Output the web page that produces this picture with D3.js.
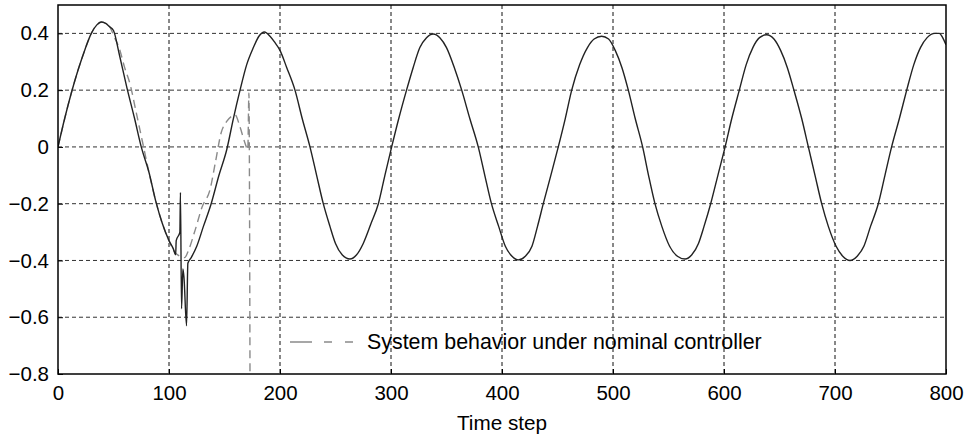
<!DOCTYPE html>
<html>
<head>
<meta charset="utf-8">
<script src="https://cdn.jsdelivr.net/npm/d3@7"></script>
<style>
  html, body { margin: 0; padding: 0; background: #fff; }
  svg { display: block; font-family: "Liberation Sans", Arial, Helvetica, sans-serif; }
</style>
</head>
<body>
<svg id="chart" width="969" height="439"></svg>
<script>
// ---------- data ----------
const xTicks = [0, 100, 200, 300, 400, 500, 600, 700, 800];
const yTicks = [0.4, 0.2, 0, -0.2, -0.4, -0.6, -0.8];
const xLabel = "Time step";
const legendLabel = "System behavior under nominal controller";

// Solid line: system behaviour (time steps and values)
const solidT = [0, 6, 12, 18, 24, 30, 35, 39, 43, 46, 50, 55, 62, 69, 75, 82, 88, 94, 100, 104, 106,
  106.5, 109.8, 110.3, 111.3, 112.5, 113.5, 115.8, 117, 120, 125, 131, 138, 145, 152, 158, 164, 170, 176, 181,
  186, 191, 195, 200, 206, 213.5, 220, 227, 233, 239, 245, 250, 256, 263, 269, 275, 282, 288.6, 294.5,
  300.6, 307, 314, 320, 326, 332, 338, 344, 350, 357, 363.7, 371, 378.6, 384.5, 390.5, 397, 403, 409,
  414.7, 421, 427, 432, 437.2, 444, 450.7, 457, 462.8, 470, 477, 483, 489.8, 496, 502, 508, 513.8, 520,
  526.7, 532, 537.8, 544, 551, 558, 564.9, 571, 577, 582, 588, 594.5, 601, 607, 613.8, 620, 626, 632,
  638.4, 645, 651, 657, 663, 670, 676, 682, 688, 694, 701, 707, 713.5, 720, 726, 732, 739, 745, 751,
  758, 764.6, 771, 777, 783, 790, 794, 797, 800];
const solidV = [0, 0.10, 0.19, 0.27, 0.34, 0.40, 0.43, 0.44, 0.435, 0.425, 0.41, 0.33, 0.21, 0.10, 0.0, -0.09, -0.19, -0.27, -0.33, -0.36, -0.38,
  -0.33, -0.30, -0.16, -0.57, -0.43, -0.46, -0.63, -0.41, -0.39, -0.35, -0.28, -0.20, -0.10, -0.01, 0.10, 0.20, 0.29, 0.35, 0.39,
  0.405, 0.39, 0.37, 0.34, 0.28, 0.20, 0.10, 0.0, -0.10, -0.20, -0.28, -0.34, -0.38, -0.395, -0.38, -0.34, -0.27, -0.20, -0.10,
  0.0, 0.10, 0.20, 0.28, 0.35, 0.385, 0.398, 0.385, 0.35, 0.28, 0.20, 0.10, 0.0, -0.10, -0.20, -0.28, -0.35, -0.385,
  -0.398, -0.385, -0.35, -0.28, -0.20, -0.10, 0.0, 0.10, 0.20, 0.29, 0.35, 0.38, 0.39, 0.38, 0.34, 0.28, 0.20, 0.10,
  0.0, -0.10, -0.20, -0.28, -0.35, -0.385, -0.395, -0.38, -0.34, -0.28, -0.20, -0.10, 0.0, 0.10, 0.20, 0.29, 0.35, 0.385,
  0.395, 0.38, 0.34, 0.28, 0.20, 0.10, 0.0, -0.10, -0.20, -0.28, -0.35, -0.385, -0.40, -0.385, -0.35, -0.28, -0.20, -0.10, 0.0,
  0.10, 0.20, 0.29, 0.35, 0.385, 0.40, 0.40, 0.385, 0.36];

// Dashed gray line: system behaviour under nominal controller
const nominalT = [0, 12, 24, 30, 35, 39, 43, 47, 51, 55, 60, 65, 70, 76, 82, 88, 94, 100, 105, 110, 114,
  118, 123, 130, 137, 142, 147, 152, 156, 159.5, 164, 168.5, 171, 172, 173];
const nominalV = [0, 0.19, 0.34, 0.40, 0.43, 0.44, 0.435, 0.42, 0.385, 0.35, 0.28, 0.22, 0.13, 0.02, -0.09, -0.19, -0.27, -0.33, -0.37, -0.385, -0.39,
  -0.36, -0.30, -0.21, -0.15, -0.05, 0.05, 0.09, 0.107, 0.113, 0.07, 0.013, -0.01, 0.19, -0.85];

// ---------- layout ----------
const svg = d3.select("#chart");
const L = 58, R = 946, T = 5, B = 374;
const x = d3.scaleLinear().domain([0, 800]).range([L, R]);
const y = d3.scaleLinear().domain([-0.8, 0.5]).range([B, T]);
const fmtY = v => (v < 0 ? "\u2212" : "") + (v === 0 ? "0" : Math.abs(v).toFixed(1));

svg.append("defs").append("clipPath").attr("id", "clip")
  .append("rect").attr("x", L).attr("y", T).attr("width", R - L).attr("height", B - T);

// grid
const grid = svg.append("g");
grid.selectAll("line.hg").data(yTicks.filter(v => v > -0.8)).join("line")
  .attr("x1", L).attr("x2", R).attr("y1", d => y(d)).attr("y2", d => y(d))
  .attr("stroke", "#333").attr("stroke-width", 1).attr("stroke-dasharray", "4,3");
grid.selectAll("line.vg").data(xTicks.filter(v => v > 0 && v < 800)).join("line")
  .attr("y1", T).attr("y2", B).attr("x1", d => x(d)).attr("x2", d => x(d))
  .attr("stroke", "#111").attr("stroke-width", 1).attr("stroke-dasharray", "4,3");

// series
const pts = (ts, vs) => ts.map((t, i) => [t, vs[i]]);
const line = d3.line().x(d => x(d[0])).y(d => y(d[1])).curve(d3.curveMonotoneX);

const plot = svg.append("g").attr("clip-path", "url(#clip)");
plot.append("path").datum(pts(nominalT, nominalV))
  .attr("d", line).attr("fill", "none").attr("stroke", "#8a8a8a")
  .attr("stroke-width", 1.4).attr("stroke-dasharray", "8,5");
plot.append("path").datum(pts(solidT, solidV))
  .attr("d", line).attr("fill", "none").attr("stroke", "#222")
  .attr("stroke-width", 1.4).attr("stroke-linejoin", "round");

// frame
svg.append("rect").attr("x", L).attr("y", T).attr("width", R - L).attr("height", B - T)
  .attr("fill", "none").attr("stroke", "#000").attr("stroke-width", 1.5);

// axes (ticks inward)
const xAxis = d3.axisBottom(x).tickValues(xTicks).tickSize(-5).tickPadding(11).tickFormat(d3.format("d"));
const gx = svg.append("g").attr("transform", `translate(0,${B})`).call(xAxis);
gx.select(".domain").remove();
gx.selectAll("text").attr("font-size", "20.5px").attr("fill", "#000").attr("font-family", null);

const yAxis = d3.axisLeft(y).tickValues(yTicks).tickSize(-5).tickPadding(9).tickFormat(fmtY);
const gy = svg.append("g").attr("transform", `translate(${L},0)`).call(yAxis);
gy.select(".domain").remove();
gy.selectAll("text").attr("font-size", "20.5px").attr("fill", "#000").attr("font-family", null);

// x label
svg.append("text").attr("x", (L + R) / 2).attr("y", 430).attr("text-anchor", "middle")
  .attr("font-size", "20.7px").attr("fill", "#000").text(xLabel);

// legend
svg.append("line").attr("x1", 290).attr("x2", 354).attr("y1", 342).attr("y2", 342)
  .attr("stroke", "#8a8a8a").attr("stroke-width", 1.4).attr("stroke-dasharray", "22,12,8,13,8");
svg.append("text").attr("x", 367).attr("y", 349).attr("font-size", "21.4px").attr("fill", "#000")
  .text(legendLabel);
</script>
</body>
</html>
